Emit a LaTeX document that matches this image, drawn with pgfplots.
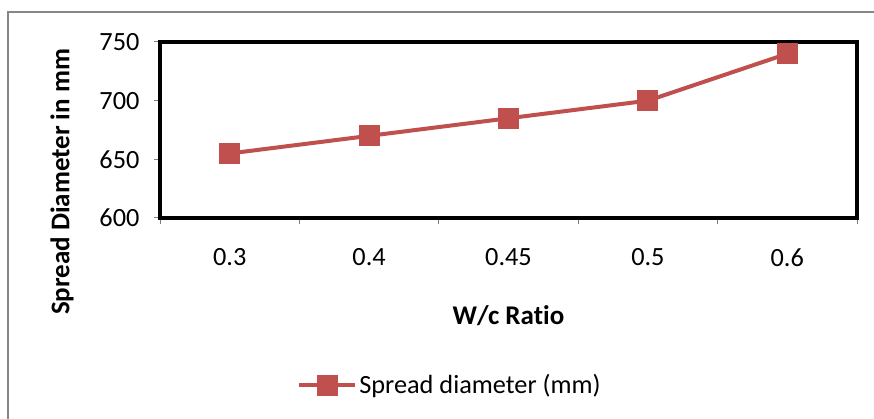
\documentclass[border=0pt]{standalone}
\usepackage{pgfplots}
\pgfplotsset{compat=1.18}
\usepackage{fontspec}
\setmainfont{Carlito}[Ligatures=CommonOff]
\definecolor{exred}{RGB}{192,80,77}
\definecolor{framegray}{RGB}{134,134,134}
\begin{document}
\begin{tikzpicture}
\draw[framegray, line width=2pt] (8pt,-5pt) -- (8pt,407pt) -- (880pt,407pt);
\begin{axis}[
  at={(160pt,201pt)}, anchor=south west,
  width=697pt, height=176pt, scale only axis,
  xmin=-0.5, xmax=4.5, ymin=600, ymax=750,
  xtick={0,1,2,3,4},
  xticklabels={0.3,0.4,0.45,0.5,0.6},
  major x tick style={draw=none},
  minor xtick={-0.5,0.5,1.5,2.5,3.5,4.5},
  minor tick length=6pt,
  minor x tick style={gray, line width=1pt},
  ytick={600,650,700,750},
  major tick length=6pt,
  tick align=outside,
  y tick style={gray, line width=1pt},
  xtick pos=bottom, ytick pos=left,
  axis line style={black, line width=3.5pt},
  tick label style={font=\fontsize{26.3}{31}\selectfont},
  /pgf/number format/assume math mode=true,
  yticklabel style={xshift=-11pt},
  xticklabel style={yshift=-21pt},
  xlabel={\textbf{W/c Ratio}},
  ylabel={\textbf{Spread Diameter in mm}},
  label style={font=\fontsize{27}{32}\selectfont},
  xlabel style={at={(0.5,-0.553)}, anchor=center},
  ylabel style={at={(-0.1406,0.205)}, anchor=center},
  legend style={draw=none, at={(0.416,-0.949)}, anchor=center,
    font=\fontsize{26.3}{31}\selectfont, inner sep=0pt},
  legend image code/.code={\draw[mark repeat=2,mark phase=2,#1] plot coordinates {(0pt,0pt) (28pt,0pt) (56pt,0pt)};},
  clip=false,
]
\addplot[exred, line width=4pt, mark=square*, mark size=10pt, mark options={solid, fill=exred, draw=exred, line width=0pt}]
  coordinates {(0,655) (1,670) (2,685) (3,700) (4,740)};
\addlegendentry{Spread diameter (mm)}
\end{axis}
\pgfresetboundingbox
\useasboundingbox (0pt,0pt) rectangle (874pt,419pt);
\end{tikzpicture}
\end{document}
